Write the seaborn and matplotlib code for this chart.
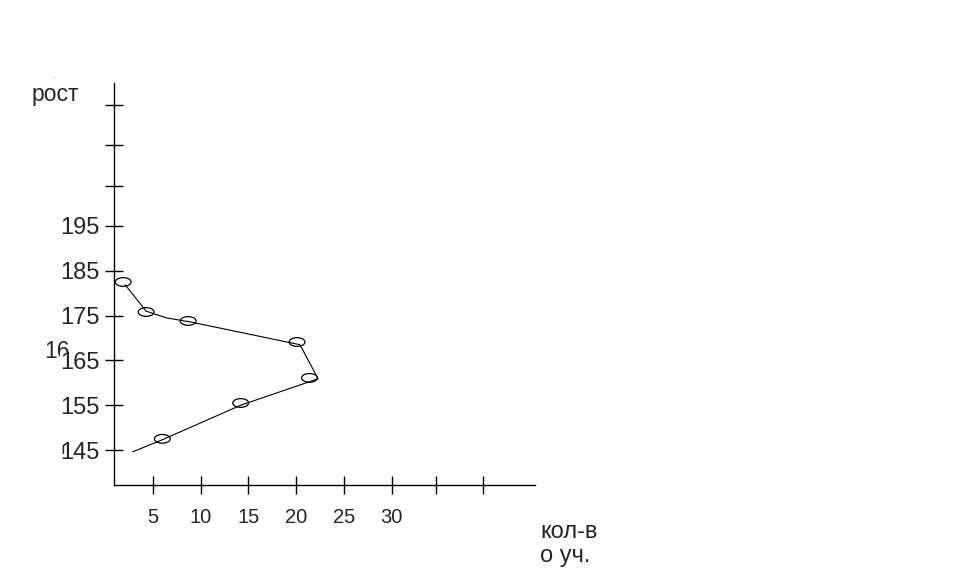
import matplotlib
matplotlib.use("Agg")
import matplotlib.pyplot as plt
import seaborn as sns
import pandas as pd
from matplotlib.path import Path
from matplotlib.transforms import Affine2D

# hand-drawn polyline (кол-во учащихся vs рост)
line_count = [2.1, 4.3, 6.4, 8.9, 20.4, 22.3, 14.2, 6.0, 2.9]
line_height = [181.9, 176.0, 174.5, 173.6, 168.5, 160.9, 155.0, 147.3, 144.6]

# circled points
pt_count = [1.9, 4.3, 8.7, 20.1, 21.4, 14.2, 6.0]
pt_height = [182.5, 175.8, 173.8, 169.1, 161.1, 155.5, 147.5]

x_ticks = [5, 10, 15, 20, 25, 30]
x_extra_ticks = [34.6, 39.6]
y_ticks = [145, 155, 165, 175, 185, 195]
y_extra_ticks = [204, 213, 222]

W, H = 962, 585

sns.set_style("white")
plt.rcParams["font.family"] = ["Liberation Sans", "DejaVu Sans"]

fig = plt.figure(figsize=(W / 100, H / 100), dpi=100)
ax = fig.add_axes([114 / W, 1 - 485 / H, (535 - 114) / W, (485 - 83) / H])

line_df = pd.DataFrame({"count": line_count, "height": line_height})
pt_df = pd.DataFrame({"count": pt_count, "height": pt_height})

sns.lineplot(data=line_df, x="count", y="height", sort=False, estimator=None,
             color="black", linewidth=0.8, ax=ax)

ellipse = Path.unit_circle().transformed(Affine2D().scale(1.0, 0.55))
sns.scatterplot(data=pt_df, x="count", y="height", marker=ellipse, s=130,
                ax=ax, zorder=3)
coll = ax.collections[-1]
coll.set_facecolor("none")
coll.set_edgecolor("black")
coll.set_linewidth(0.9)

ax.set_xlim(0.94, 45)
ax.set_ylim(137.2, 226.9)
sns.despine(ax=ax)
for s in ("left", "bottom"):
    ax.spines[s].set_color("black")
    ax.spines[s].set_linewidth(1.0)

ax.set_xticks(x_ticks)
ax.set_xticks(x_extra_ticks, minor=True)
ax.set_yticks(y_ticks)
ax.set_yticks(y_extra_ticks, minor=True)
ax.tick_params(axis="both", which="both", direction="inout", color="black",
               width=1.0, length=13, left=True, bottom=True)
ax.tick_params(axis="y", labelsize=17, pad=4)
ax.tick_params(axis="x", labelsize=14.5, pad=10)
for lab in ax.get_yticklabels():
    lab.set_bbox(dict(facecolor="white", edgecolor="none", pad=0))
ax.set_xlabel("")
ax.set_ylabel("")

# stray fragments partly hidden behind tick labels
ax.text(44 / W, 1 - 351 / H, "16", transform=fig.transFigure, fontsize=16.5,
        va="center", ha="left", zorder=0.1)
fig.text(60 / W, 1 - 450 / H, "ı", fontsize=12, va="center", ha="left")
fig.text(52 / W, 1 - 78 / H, ".", fontsize=5, va="baseline", ha="left")

fig.text(32 / W, 1 - 101 / H, "рост", fontsize=16.5, va="baseline", ha="left")
fig.text(540 / W, 1 - 538 / H, "кол-в", fontsize=17, va="baseline", ha="left")
fig.text(540 / W, 1 - 562 / H, "о уч.", fontsize=17, va="baseline", ha="left")

fig.savefig("out.png", dpi=100)
